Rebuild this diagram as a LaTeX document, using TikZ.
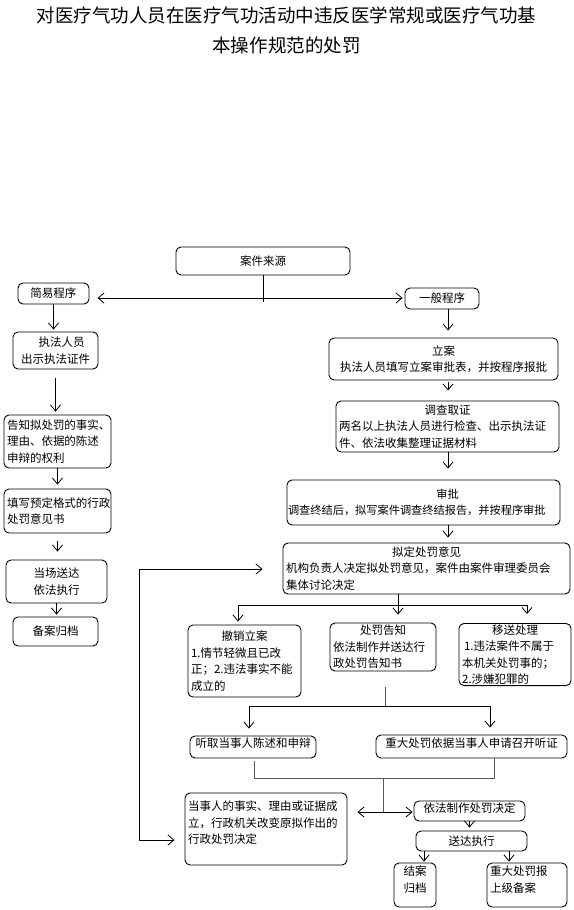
\documentclass[tikz,border=0pt]{standalone}
\usepackage{fontspec}
\setmainfont{Noto Sans CJK SC}
\usetikzlibrary{arrows.meta}
\tikzset{
  box/.style={draw, rounded corners=5pt, line width=0.9pt, inner xsep=3pt, inner ysep=1pt,
    font=\fontsize{11.5}{16.5}\selectfont},
  wire/.style={line width=0.8pt},
  thin wire/.style={line width=0.6pt, draw=black!65},
  >={Straight Barb[length=6pt,width=10pt]},
}
\newcommand{\boxhead}[1]{\makebox[\linewidth]{#1}}

\begin{document}
\begin{tikzpicture}[x=1pt,y=-1pt]
        \useasboundingbox (0,0) rectangle (573,910);

        % Title
        \node[font=\fontsize{18.5}{30}\selectfont, align=center] (title) at (286.5,30)
          {对医疗气功人员在医疗气功活动中违反医学常规或医疗气功基\\本操作规范的处罚};

        % Define boxes by coordinates
        \node[box, minimum width=174pt, minimum height=28pt] (src) at (263,261) {案件来源};
        \node[box, minimum width=71pt, minimum height=21pt] (simple) at (53.5,293.5) {简易程序};
        \node[box, minimum width=74pt, minimum height=21pt] (general) at (442,298.5) {一般程序};

        % simple procedure
        \node[box, minimum width=85pt, minimum height=37pt, align=center] (show) at (55.5,350.5)
          {\hspace*{12pt}执法人员\\出示执法证件};
        \node[box, text width=101pt, minimum height=53pt, align=left] (notify) at (57.5,441.5)
          {告知拟处罚的事实、\\理由、依据的陈述\\申辩的权利};
        \node[box, text width=101pt, minimum height=44pt, align=left] (fill) at (57.5,511)
          {填写预定格式的行政\\处罚意见书};
        \node[box, minimum width=101pt, minimum height=43pt, align=center] (deliver) at (56.5,581.5)
          {当场送达\\依法执行};
        \node[box, minimum width=85pt, minimum height=29pt] (archive) at (55.5,631.5) {备案归档};

        % general procedure
        \node[box, text width=223pt, minimum height=42pt, align=center] (file) at (443.5,359)
          {立案\\执法人员填写立案审批表，并按程序报批};
        \node[box, text width=217pt, minimum height=51pt, align=left] (invest) at (447.5,426.5)
          {\boxhead{调查取证}\\两名以上执法人员进行检查、出示执法证\\件、依法收集整理证据材料};
        \node[box, inner xsep=1pt, text width=271pt, minimum height=45pt, align=left,
          font=\fontsize{11.2}{16.5}\selectfont] (approve) at (423.5,502.5)
          {\boxhead{\hspace{48pt}审批}\\调查终结后，拟写案件调查终结报告，并按程序审批};
        \node[box, text width=281pt, minimum height=51pt, align=left] (draft) at (426.5,568.5)
          {\boxhead{拟定处罚意见}\\机构负责人决定拟处罚意见，案件由案件审理委员会\\集体讨论决定};

        \node[box, text width=107pt, minimum height=72pt, align=left] (revoke) at (244.5,661)
          {\boxhead{撤销立案}\\1.情节轻微且已改\\正；2.违法事实不能\\成立的};
        \node[box, text width=100pt, minimum height=48pt, align=left] (notice) at (383,647)
          {\boxhead{处罚告知}\\依法制作并送达行\\政处罚告知书};
        \node[box, text width=106pt, minimum height=61pt, align=left] (transfer) at (515,654.5)
          {\boxhead{移送处理}\\\hspace*{2pt}1.违法案件不属于\\本机关处罚事的；\\2.涉嫌犯罪的};

        \node[box, minimum width=126pt, minimum height=22pt, text depth=8pt] (hear) at (253,747)
          {听取当事人陈述和申辩};
        \node[box, minimum width=191pt, minimum height=23pt, text depth=7pt] (hearing) at (471.5,746.5)
          {重大处罚依据当事人申请召开听证};
        \node[box, text width=156pt, minimum height=72pt, text depth=46pt, align=left] (change) at (266,829)
          {当事人的事实、理由或证据成\\立，行政机关改变原拟作出的\\行政处罚决定};
        \node[box, minimum width=111pt, minimum height=20pt, text depth=7pt] (decide) at (469.5,811)
          {依法制作处罚决定};
        \node[box, minimum width=111pt, minimum height=20pt] (send) at (471.5,841) {送达执行};
        \node[box, text width=36pt, minimum height=44pt, text depth=28pt, align=center] (close) at (415,885)
          {结案\\归档};
        \node[box, text width=74pt, minimum height=44pt, text depth=28pt, align=left] (report) at (527,885)
          {重大处罚报\\上级备案};

        % Junctions
        \coordinate (split) at (263,298);
        \coordinate (splitend) at (263,302);
        \coordinate (rcol) at (448,0);
        \coordinate (dmid) at (398,605);
        \coordinate (dleft) at (238,605);
        \coordinate (dright) at (527,605);
        \coordinate (nmid) at (385,706);
        \coordinate (nleft) at (249,706);
        \coordinate (nright) at (490,706);
        \coordinate (jleft) at (254,778);
        \coordinate (jright) at (494,778);
        \coordinate (jmid) at (383,778);
        \coordinate (jend) at (383,812);
        \coordinate (cl) at (424,0);
        \coordinate (rp) at (509,0);
        \coordinate (backtop) at (139,569);
        \coordinate (backbot) at (139,840);

        % Draw arrows
        \draw[wire] (src) -- (splitend);
        \draw[wire,->,shorten >=8pt] (split) -- (split -| simple.east);
        \draw[wire,->,shorten >=2pt] (split) -- (split -| general.west);

        \draw[wire,->,shorten >=2pt] (simple.south) -- (simple.south |- show.north);
        \draw[wire,->,shorten <=9pt,shorten >=3pt] (show.south) -- (show.south |- notify.north);
        \draw[wire,->,shorten >=4pt] (notify.south) -- (notify.south |- fill.north);
        \draw[wire,->,shorten <=8pt,shorten >=8pt] (fill.south) -- (fill.south |- deliver.north);
        \draw[wire,->,shorten >=2pt] (deliver.south) -- (deliver.south |- archive.north);

        \draw[wire,->,shorten >=7pt] (general.south -| rcol) -- (file.north -| rcol);
        \draw[wire,->,shorten <=2pt,shorten >=10pt] (file.south -| rcol) -- (invest.north -| rcol);
        \draw[wire,->,shorten >=11pt] (invest.south -| rcol) -- (approve.north -| rcol);
        \draw[wire,->,shorten >=5pt] (approve.south -| rcol) -- (draft.north -| rcol);

        \draw[wire] (dleft) -- (dright);
        \draw[wire,->,shorten >=8pt] (draft.south -| dmid) -- (dmid |- notice.north);
        \draw[wire,->,shorten >=3pt] (dleft) -- (dleft |- revoke.north);
        \draw[wire,->,shorten >=9pt] (dright) -- (dright |- transfer.north);

        \draw[thin wire,shorten <=16pt] (notice.south -| nmid) -- (nmid);
        \draw[wire] (nleft) -- (nright);
        \draw[wire,->,shorten >=7pt] (nleft) -- (nleft |- hear.north);
        \draw[wire,->,shorten >=7pt] (nright) -- (nright |- hearing.north);

        \draw[thin wire,shorten <=3pt] (hear.south -| jleft) -- (jleft) -- (jright) -- (hearing.south -| jright);
        \draw[thin wire] (jmid) -- (jend);
        \draw[wire,<->,shorten <=10pt,shorten >=1pt] (change.east |- jend) -- (decide.west |- jend);

        \draw[wire,->,shorten >=3pt] (decide.south) -- (decide.south |- send.north);
        \draw[wire,->,shorten >=1pt] (send.south -| cl) -- (close.north -| cl);
        \draw[wire,->,shorten >=1pt] (send.south -| rp) -- (report.north -| rp);

        \draw[wire,<->,shorten <=20pt,shorten >=10pt] (draft.west |- backtop) -- (backtop) -- (backbot) -- (change.west |- backbot);

\end{tikzpicture}
\end{document}
